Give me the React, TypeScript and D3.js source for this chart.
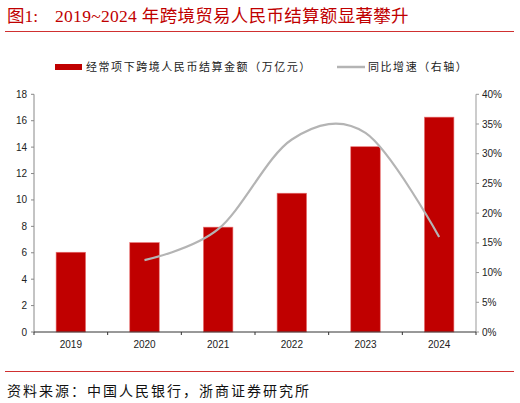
import React from "react";
import * as d3 from "d3";

const years = ["2019", "2020", "2021", "2022", "2023", "2024"];
const settlement = [6.04, 6.77, 7.94, 10.51, 14.03, 16.27];
const growthYears = ["2020", "2021", "2022", "2023", "2024"];
const growth = [0.121, 0.173, 0.324, 0.335, 0.16];
const leftTicks = [0, 2, 4, 6, 8, 10, 12, 14, 16, 18];
const rightTicks = [0, 0.05, 0.1, 0.15, 0.2, 0.25, 0.3, 0.35, 0.4];

const W = 520;
const H = 403;
const X0 = 34;
const X1 = 476;
const Y0 = 332;
const YT = 94.3;

export default function App() {
  const x = d3.scaleBand<string>().domain(years).range([X0, X1]).paddingInner(0.6).paddingOuter(0.3);
  const yL = d3.scaleLinear().domain([0, 18]).range([Y0, YT]);
  const yR = d3.scaleLinear().domain([0, 0.4]).range([Y0, YT]);
  const cx = (y: string) => (x(y) ?? 0) + x.bandwidth() / 2;
  const line = d3
    .line<number>()
    .x((_, i) => cx(growthYears[i]))
    .y((d) => yR(d))
    .curve(d3.curveCardinal.tension(0));
  const boundaries = d3.range(years.length + 1).map((i) => X0 + i * x.step());
  const pct = d3.format(".0%");
  const sans = "'Liberation Sans', Arial, sans-serif";
  const cjk = "'Liberation Serif', 'Noto Sans CJK SC', serif";

  return (
    <svg width={W} height={H} style={{ position: "absolute", left: 0, top: 0, background: "#fff" }}>
      {/* title */}
      <text x={7} y={22} fill="#C00000" fontSize={17.5} fontFamily={cjk}>
        图1:
      </text>
      <text x={55} y={22} fill="#C00000" fontSize={17.5} letterSpacing={0.3} fontFamily={cjk}>
        2019~2024 年跨境贸易人民币结算额显著攀升
      </text>
      <line x1={5} x2={514} y1={31.5} y2={31.5} stroke="#D03030" strokeWidth={1} />

      {/* legend */}
      <rect x={55} y={64} width={27} height={6} fill="#C00000" />
      <text x={86} y={71} fontSize={11} letterSpacing={1.55} fill="#222" fontFamily="'Noto Sans CJK SC', sans-serif">
        经常项下跨境人民币结算金额（万亿元）
      </text>
      <line x1={337} x2={365} y1={67} y2={67} stroke="#B4B4B4" strokeWidth={2.5} />
      <text x={368} y={71} fontSize={11} letterSpacing={1.55} fill="#222" fontFamily="'Noto Sans CJK SC', sans-serif">
        同比增速（右轴）
      </text>

      {/* bars */}
      {years.map((yr, i) => (
        <rect
          key={yr}
          x={x(yr)}
          y={yL(settlement[i])}
          width={x.bandwidth()}
          height={Y0 - yL(settlement[i])}
          fill="#C00000"
          stroke="#E87070"
          strokeWidth={0.6}
        />
      ))}

      {/* line */}
      <path d={line(growth) ?? ""} fill="none" stroke="#B4B4B4" strokeWidth={2.2} />

      {/* left axis */}
      <line x1={X0} x2={X0} y1={YT} y2={Y0} stroke="#888" strokeWidth={1} />
      {leftTicks.map((t) => (
        <g key={t}>
          <line x1={X0 - 3} x2={X0} y1={yL(t)} y2={yL(t)} stroke="#888" />
          <text x={27} y={yL(t) + 3.5} textAnchor="end" fontSize={10} fill="#222" fontFamily={sans}>
            {t}
          </text>
        </g>
      ))}

      {/* right axis */}
      <line x1={X1} x2={X1} y1={YT} y2={Y0} stroke="#999" strokeWidth={1} />
      {rightTicks.map((t) => (
        <g key={t}>
          <line x1={X1} x2={X1 + 3} y1={yR(t)} y2={yR(t)} stroke="#999" />
          <text x={482} y={yR(t) + 3.5} textAnchor="start" fontSize={10} fill="#222" fontFamily={sans}>
            {pct(t)}
          </text>
        </g>
      ))}

      {/* x axis */}
      <line x1={X0} x2={X1} y1={Y0} y2={Y0} stroke="#333" strokeWidth={1} />
      {boundaries.map((b, i) => (
        <line key={i} x1={b} x2={b} y1={Y0} y2={Y0 + 3} stroke="#333" />
      ))}
      {years.map((yr) => (
        <text key={yr} x={cx(yr)} y={347.5} textAnchor="middle" fontSize={10} fill="#222" fontFamily={sans}>
          {yr}
        </text>
      ))}

      {/* footer */}
      <line x1={5} x2={514} y1={371.5} y2={371.5} stroke="#D03030" strokeWidth={1} />
      <text x={7} y={396} fontSize={14} letterSpacing={2} fill="#111" fontFamily={cjk}>
        资料来源：中国人民银行，浙商证券研究所
      </text>
    </svg>
  );
}
